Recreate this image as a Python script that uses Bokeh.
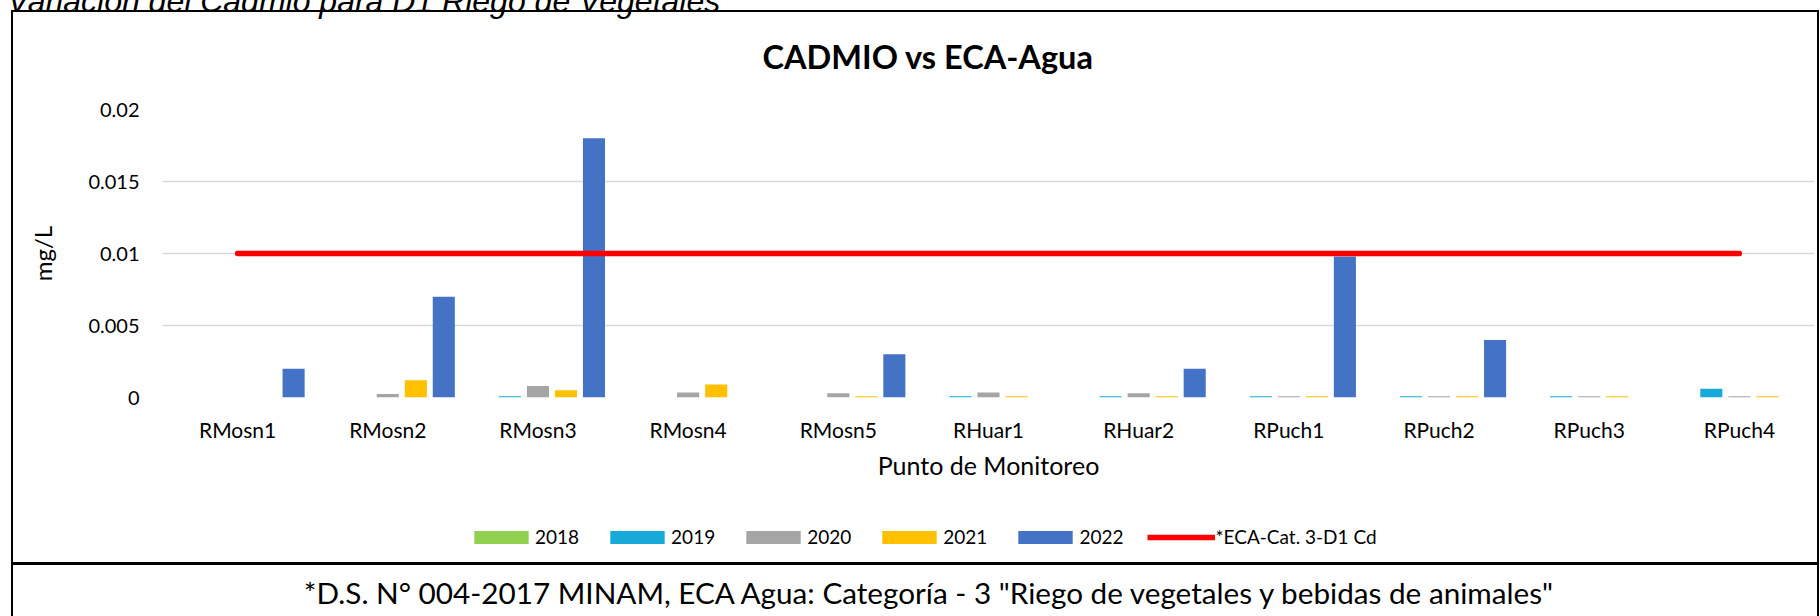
from bokeh.plotting import figure
from bokeh.layouts import column
from bokeh.models import (ColumnDataSource, FactorRange, Range1d, FixedTicker, CustomJSTickFormatter,
                          Legend, LegendItem, Title)
from bokeh.core.properties import value
from bokeh.transform import dodge
from bokeh.embed import file_html
from bokeh.resources import INLINE

# ---------------- data ----------------
categories = ["RMosn1", "RMosn2", "RMosn3", "RMosn4", "RMosn5", "RHuar1",
              "RHuar2", "RPuch1", "RPuch2", "RPuch3", "RPuch4"]
years = ["2018", "2019", "2020", "2021", "2022"]
v2018 = [0, 0, 0, 0, 0, 0, 0, 0, 0, 0, 0]
v2019 = [0, 0, 0.00008, 0, 0, 0.00008, 0.00008, 0.00008, 0.00008, 0.00008, 0.0006]
v2020 = [0, 0.00025, 0.0008, 0.00035, 0.0003, 0.00035, 0.0003, 0.00008, 0.00008, 0.00008, 0.00008]
v2021 = [0, 0.0012, 0.0005, 0.0009, 0.00008, 0.00008, 0.00008, 0.00008, 0.00008, 0.00008, 0.00008]
v2022 = [0.002, 0.007, 0.018, 0, 0.003, 0, 0.002, 0.0098, 0.004, 0, 0]
eca = [0.01] * 11
y_ticks = [0, 0.005, 0.01, 0.015, 0.02]
colors = ["#92D050", "#17AAD9", "#A5A5A5", "#FFC000", "#4472C4"]
eca_color = "#FF0000"
placeholder = [0]   # legend-only renderers (zero-size, outside the footer range)

title_text = "CADMIO vs ECA-Agua"
top_text = "Variación del Cadmio para D1 Riego de Vegetales"
caption_text = '*D.S. N° 004-2017 MINAM, ECA Agua: Categoría - 3 "Riego de vegetales y bebidas de animales"'
eca_label = "*ECA-Cat. 3-D1 Cd"

FONT = "Lato"
W = 1820
H_MAIN, H_FTR = 500, 116

# ---------------- main chart (with heading + title in the top panel) ----------------
source = ColumnDataSource(data=dict(cat=categories, y2018=v2018, y2019=v2019, y2020=v2020,
                                    y2021=v2021, y2022=v2022, eca=eca))
p = figure(x_range=FactorRange(factors=categories, range_padding=0),
           y_range=Range1d(0, 0.02), title=None,
           width=W, height=H_MAIN, output_backend="svg", toolbar_location=None,
           min_border_left=162, min_border_right=6, min_border_top=109, min_border_bottom=103)
p.outline_line_color = None
p.background_fill_color = "white"
p.border_fill_alpha = 0

offsets = [-0.373, -0.187, 0.0, 0.187, 0.373]
for yr, off, col in zip(years, offsets, colors):
    p.vbar(x=dodge("cat", off, range=p.x_range), top="y" + yr, bottom=0, width=0.147,
           source=source, fill_color=col, line_color=None)
p.line(x="cat", y="eca", source=source, line_color=eca_color, line_width=5.5, line_cap="round")

p.xgrid.grid_line_color = None
p.ygrid.grid_line_color = "#D9D9D9"
p.ygrid.grid_line_width = 1.5
p.yaxis.ticker = FixedTicker(ticks=y_ticks)
p.yaxis.formatter = CustomJSTickFormatter(code="return tick.toString()")
for ax in (p.xaxis[0], p.yaxis[0]):
    ax.axis_line_color = None
    ax.major_tick_line_color = None
    ax.minor_tick_line_color = None
    ax.major_tick_out = 0
    ax.major_tick_in = 0
    ax.major_label_text_font = FONT
    ax.major_label_text_color = "black"
    ax.axis_label_text_font = FONT
    ax.axis_label_text_font_style = "normal"
    ax.axis_label_text_color = "black"

p.yaxis.major_label_text_font_size = "20px"
p.yaxis.major_label_standoff = 23
p.yaxis.axis_label = "mg/L"
p.yaxis.axis_label_text_font_size = "24px"
p.yaxis.axis_label_standoff = 28

p.xaxis.major_label_text_font_size = "21px"
p.xaxis.major_label_standoff = 19
p.xaxis.axis_label = "Punto de Monitoreo"
p.xaxis.axis_label_text_font_size = "25px"
p.xaxis.axis_label_standoff = 5

# top panel, stacked from the frame upwards: spacer, chart title, italic heading
p.add_layout(Title(text=".", text_alpha=0, text_font=FONT, text_font_size="10px",
                   standoff=-1), "above")
p.add_layout(Title(text=title_text, align="left", offset=600, vertical_align="middle",
                   standoff=66, text_font=FONT, text_font_style="bold", text_font_size="32.5px",
                   text_color="black"), "above")
p.add_layout(Title(text=top_text, align="left", offset=-155, vertical_align="top",
                   standoff=-37, text_font="Liberation Sans", text_font_style="italic",
                   text_font_size="32px", text_color="black"), "above")

# ---------------- footer: legend + caption ----------------
ftr = figure(width=W, height=H_FTR, x_range=Range1d(162, 1814), y_range=Range1d(H_FTR, 0),
             x_axis_type=None, y_axis_type=None, output_backend="svg", toolbar_location=None,
             min_border=0, min_border_left=0, min_border_right=0, min_border_top=0,
             min_border_bottom=0)
ftr.outline_line_color = None
ftr.background_fill_alpha = 0
ftr.border_fill_alpha = 0
ftr.xgrid.visible = False
ftr.ygrid.visible = False

items = []
for yr, col in zip(years, colors):
    r = ftr.vbar(x=placeholder, top=placeholder, width=1, fill_color=col, line_color=None)
    items.append(LegendItem(label=yr, renderers=[r]))
rl = ftr.line(x=placeholder, y=placeholder, line_color=eca_color, line_width=5.5)
items.append(LegendItem(label=eca_label, renderers=[rl]))
legend = Legend(items=items, orientation="horizontal", location=(305, 68),
                glyph_width=68, glyph_height=16, label_height=16, label_standoff=0, spacing=24,
                padding=0, margin=0, border_line_color=None, background_fill_alpha=0,
                label_text_font=FONT, label_text_font_size="19px", label_text_color="black")
ftr.add_layout(legend, "center")
ftr.text(x=[930], y=[92], text=[caption_text], text_font=value(FONT),
         text_font_size="29.7px", text_color="black", text_align="center",
         text_baseline="middle")

# ---------------- borders of chart box and caption box (CSS lines) ----------------
border_styles = {
    "background-color": "white",
    "background-image": ", ".join(["linear-gradient(#000, #000)"] * 4),
    "background-repeat": "no-repeat",
    "background-size": "2px 606px, 1808px 2px, 2px 606px, 1808px 3px",
    "background-position": "11px 10px, 11px 10px, 1817px 10px, 11px 562px",
}
layout = column(p, ftr, spacing=0, styles=border_styles)

open("out.html", "w").write(file_html(layout, INLINE))
